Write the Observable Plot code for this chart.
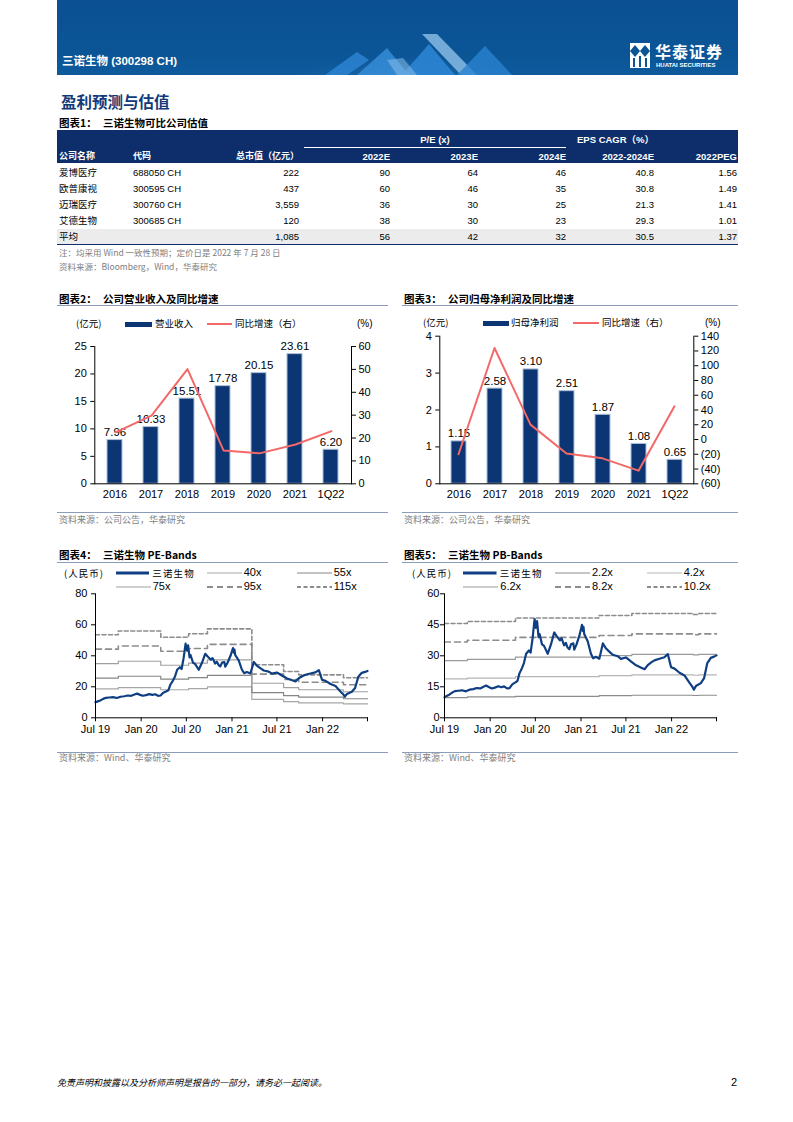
<!DOCTYPE html>
<html><head><meta charset="utf-8">
<script src="https://cdn.jsdelivr.net/npm/d3@7"></script>
<script src="https://cdn.jsdelivr.net/npm/@observablehq/plot@0.6"></script>
<style>
body{margin:0;background:#fff;}
#page{position:relative;width:793px;height:1122px;overflow:hidden;font-family:"Liberation Sans",Arial,"Noto Sans CJK SC",sans-serif;color:#000;}
.abs{position:absolute;white-space:nowrap;}
</style></head>
<body><div id="page"></div>
<script>
// ---------- DATA ----------
const companies = ["爱博医疗","欧普康视","迈瑞医疗","艾德生物","平均"];
const codes = ["688050 CH","300595 CH","300760 CH","300685 CH",""];
const marketCap = ["222","437","3,559","120","1,085"];
const pe2022 = ["90","60","36","38","56"];
const pe2023 = ["64","46","30","30","42"];
const pe2024 = ["46","35","25","23","32"];
const epsCagr = ["40.8","30.8","21.3","29.3","30.5"];
const peg2022 = ["1.56","1.49","1.41","1.01","1.37"];

const years = ["2016","2017","2018","2019","2020","2021","1Q22"];
const revenue = [7.96,10.33,15.51,17.78,20.15,23.61,6.20];
const revenueGrowth = [22.5,29.8,50.1,14.6,13.3,17.2,23];
const netProfit = [1.15,2.58,3.10,2.51,1.87,1.08,0.65];
const profitGrowth = [-20,124,20.2,-19,-25.5,-42.2,45];

const priceDates = ["2019-07-01","2019-07-10","2019-07-20","2019-08-01","2019-08-12","2019-08-25","2019-09-10","2019-09-25","2019-10-10","2019-10-25","2019-11-08","2019-11-22","2019-12-05","2019-12-16","2019-12-28","2020-01-08","2020-01-20","2020-02-03","2020-02-15","2020-02-26","2020-03-09","2020-03-19","2020-03-30","2020-04-10","2020-04-20","2020-04-28","2020-05-08","2020-05-16","2020-05-25","2020-06-05","2020-06-12","2020-06-20","2020-06-28","2020-07-03","2020-07-08","2020-07-14","2020-07-18","2020-07-28","2020-08-05","2020-08-20","2020-09-02","2020-09-15","2020-09-25","2020-10-08","2020-10-15","2020-10-25","2020-11-01","2020-11-08","2020-11-15","2020-11-22","2020-12-01","2020-12-05","2020-12-14","2020-12-26","2021-01-05","2021-01-09","2021-01-11","2021-01-14","2021-01-28","2021-02-10","2021-02-19","2021-03-02","2021-03-16","2021-03-30","2021-04-12","2021-04-25","2021-05-09","2021-05-29","2021-06-11","2021-07-01","2021-07-21","2021-08-11","2021-09-01","2021-09-14","2021-09-27","2021-10-11","2021-10-24","2021-11-13","2021-12-03","2021-12-17","2021-12-30","2022-01-13","2022-02-02","2022-02-22","2022-03-13","2022-03-26","2022-04-01","2022-04-09","2022-04-29","2022-05-12","2022-05-25","2022-06-08","2022-06-21","2022-07-01"];
const priceValues = [10.0,10.6,11.2,12.2,12.9,13.1,13.3,12.8,13.6,13.9,14.4,14.2,15.0,15.6,14.8,14.2,14.6,15.3,14.8,15.2,14.2,14.4,16.2,17.0,17.8,21.5,24.0,26.5,31.0,32.6,31.5,38.5,47.8,43.5,46.8,39.0,40.5,35.5,34.8,31.0,35.5,41.3,39.5,37.5,38.5,35.0,36.2,34.0,33.2,35.6,36.0,33.0,35.5,40.0,45.0,42.0,44.0,40.5,37.0,31.0,28.8,29.5,28.6,36.0,33.5,32.0,30.5,29.8,28.5,29.2,27.3,25.4,24.2,23.5,25.5,26.8,27.8,28.6,29.3,30.8,24.5,23.8,21.8,20.5,17.2,15.0,13.6,15.4,16.8,19.2,26.5,29.0,29.6,30.2];

const peBandDates = ["2019-07-01","2019-10-01","2020-03-20","2020-07-10","2020-09-24","2021-03-22","2021-07-28","2021-09-27","2022-03-26","2022-07-01"];
const pe40x  = [18.6,19.5,18.1,18.8,20.0,11.9,10.4,9.6,9.0,9.0];
const pe55x  = [25.6,26.8,24.9,25.9,27.4,16.3,14.3,13.3,12.3,12.3];
const pe75x  = [35.0,36.5,33.9,35.3,37.4,22.3,19.5,18.1,16.8,16.8];
const pe95x  = [44.3,46.3,42.9,44.7,47.4,28.2,24.7,22.9,21.3,21.3];
const pe115x = [53.6,56.0,52.0,54.2,57.4,34.2,29.9,27.7,25.8,25.8];

const pbBandDates = ["2019-07-01","2019-10-01","2020-04-12","2021-03-15","2021-07-25","2022-03-30","2022-04-20","2022-07-01"];
const pb2_2x  = [9.8,10.1,10.4,10.7,10.9,10.8,10.9,10.9];
const pb4_2x  = [18.8,19.2,19.9,20.4,20.8,20.6,20.8,20.8];
const pb6_2x  = [27.7,28.3,29.4,30.1,30.7,30.4,30.7,30.7];
const pb8_2x  = [36.7,37.5,38.9,39.8,40.6,40.2,40.6,40.6];
const pb10_2x = [45.6,46.6,48.3,49.5,50.5,50.0,50.5,50.5];

const timeTicks = ["2019-07-01","2020-01-01","2020-07-01","2021-01-01","2021-07-01","2022-01-01","2022-07-01"];
const timeTickLabels = ["Jul 19","Jan 20","Jul 20","Jan 21","Jul 21","Jan 22",""];
const peTicks = [0,20,40,60,80];
const pbTicks = [0,15,30,45,60];

// ---------- HELPERS ----------
const page = document.getElementById("page");
const CN = '"Noto Sans CJK SC", sans-serif';
const navy = "#0b3573", lineNavy = "#0f3e82", coral = "#f36868";
function T(txt, x, yc, o = {}) {
  const fs = o.size || 10;
  const d = document.createElement("div");
  d.className = "abs";
  d.textContent = txt;
  d.style.left = x + "px";
  d.style.top = (yc - fs * 0.6) + "px";
  d.style.fontSize = fs + "px";
  d.style.lineHeight = (fs * 1.2) + "px";
  if (o.bold) d.style.fontWeight = "bold";
  d.style.color = o.color || "#000";
  if (o.cn) d.style.fontFamily = CN;
  if (o.italic) d.style.fontStyle = "italic";
  if (o.ls) d.style.letterSpacing = o.ls + "px";
  const tx = o.align === "right" ? "-100%" : o.align === "center" ? "-50%" : "0";
  d.style.transform = `translateX(${tx})`;
  page.appendChild(d);
  return d;
}
function R(x, y, w, h, c) {
  const d = document.createElement("div");
  d.className = "abs";
  Object.assign(d.style, {left: x + "px", top: y + "px", width: w + "px", height: h + "px", background: c});
  page.appendChild(d);
  return d;
}
function swatch(x1, x2, y, stroke, w, dash) {
  const s = document.createElementNS("http://www.w3.org/2000/svg", "svg");
  s.setAttribute("width", x2 - x1); s.setAttribute("height", 8);
  Object.assign(s.style, {position: "absolute", left: x1 + "px", top: (y - 4) + "px"});
  s.innerHTML = `<line x1="0" x2="${x2 - x1}" y1="4" y2="4" stroke="${stroke}" stroke-width="${w}" ${dash ? `stroke-dasharray="${dash}"` : ""}/>`;
  page.appendChild(s);
}
function place(el, x, y) {
  const w = document.createElement("div");
  w.className = "abs";
  w.style.left = x + "px"; w.style.top = y + "px";
  w.appendChild(el);
  page.appendChild(w);
}
const plotStyle = {background: "transparent", fontFamily: '"Liberation Sans", Arial, sans-serif', fontSize: "11px", color: "#000", overflow: "visible"};

// ---------- HEADER ----------
const hdr = R(57, 0, 681, 75, "linear-gradient(180deg,#0a5092 0%,#0b5596 70%,#0d5a9c 100%)");
hdr.innerHTML = `<svg width="681" height="75" style="position:absolute;left:0;top:0">
<defs><radialGradient id="gl" cx="0.5" cy="1" r="0.7"><stop offset="0" stop-color="#4fa3e0" stop-opacity="0.55"/><stop offset="1" stop-color="#4fa3e0" stop-opacity="0"/></radialGradient></defs>
<ellipse cx="345" cy="75" rx="110" ry="45" fill="url(#gl)"/>
<polygon points="268,75 300,52 312,60 290,75" fill="#2e86d6" opacity="0.8"/>
<polygon points="300,75 330,48 352,75" fill="#3b93df" opacity="0.75"/>
<polygon points="345,75 372,44 398,75" fill="#2f8ad9" opacity="0.8"/>
<polygon points="365,34 380,34 420,75 404,75" fill="#9fcff3" opacity="0.7"/>
<polygon points="400,75 428,46 455,75" fill="#2b82d0" opacity="0.8"/>
<polygon points="330,60 346,58 360,75 340,75" fill="#8fc3ee" opacity="0.5"/>
</svg>`;
T("三诺生物 (300298 CH)", 62, 62, {size: 11.5, bold: true, color: "#fff"});
const logo = document.createElement("div");
logo.className = "abs";
logo.style.left = "630px"; logo.style.top = "43px";
logo.innerHTML = `<svg width="22" height="26"><rect x="0" y="0" width="20" height="25" fill="#fff"/>
<polygon points="5,2 10,8 5,14 0,8" fill="#0b5596"/><polygon points="15,2 20,8 15,14 10,8" fill="#0b5596"/>
<rect x="3" y="15" width="2" height="9" fill="#0b5596"/><rect x="9" y="13" width="2" height="11" fill="#0b5596"/><rect x="15" y="15" width="2" height="9" fill="#0b5596"/></svg>`;
page.appendChild(logo);
T("华泰证券", 655, 52, {size: 16, bold: true, color: "#fff", cn: true, ls: 1});
T("HUATAI SECURITIES", 656, 65.5, {size: 6, bold: true, color: "#fff"});

// ---------- SECTION TITLE & TABLE ----------
T("盈利预测与估值", 61, 101, {size: 15.5, bold: true, color: "#123a78", cn: true});
T("图表1：", 59, 123, {size: 10.5, bold: true, cn: true});
T("三诺生物可比公司估值", 103, 123, {size: 10.5, bold: true, cn: true});
R(57, 130, 681, 33, "#0d2e6a");
T("P/E (x)", 435, 140, {size: 9.5, bold: true, color: "#fff", align: "center"});
R(304, 146.5, 262, 1, "#ffffff");
T("EPS CAGR（%）", 577, 140, {size: 9.5, bold: true, color: "#fff"});
T("公司名称", 59, 156.5, {size: 9, bold: true, color: "#fff", cn: true});
T("代码", 133, 156.5, {size: 9, bold: true, color: "#fff", cn: true});
T("总市值（亿元）", 299, 156.5, {size: 9, bold: true, color: "#fff", cn: true, align: "right"});
const hdrYears = ["2022E","2023E","2024E","2022-2024E","2022PEG"];
const numRight = [390, 478, 566, 654, 737];
hdrYears.forEach((h, i) => T(h, numRight[i], 156.5, {size: 9.5, bold: true, color: "#fff", align: "right"}));
R(57, 228.5, 681, 16, "#ececec");
R(57, 243.5, 681, 1.3, "#0d2e6a");
companies.forEach((c, i) => {
  const y = 172.3 + i * 16.1;
  T(c, 59, y, {size: 9.5, cn: true});
  if (codes[i]) T(codes[i], 133, y, {size: 9.5});
  T(marketCap[i], 299, y, {size: 9.5, align: "right"});
  [pe2022, pe2023, pe2024, epsCagr, peg2022].forEach((arr, j) => T(arr[i], numRight[j], y, {size: 9.5, align: "right"}));
});
T("注：均采用 Wind 一致性预期；定价日是 2022 年 7 月 28 日", 59, 252, {size: 8.5, color: "#808080", cn: true});
T("资料来源：Bloomberg，Wind，华泰研究", 59, 266, {size: 8.5, color: "#808080", cn: true});

// ---------- CHART FRAMES ----------
function frameBlock(x1, x2, titleNum, title, yTitle, yTopLine, yBotLine, ySource, source) {
  T(titleNum, x1 + 2, yTitle, {size: 10.5, bold: true, cn: true});
  T(title, x1 + 46, yTitle, {size: 10.5, bold: true, cn: true});
  R(x1, yTopLine, x2 - x1, 1.2, "#8a9cba");
  R(x1, yBotLine, x2 - x1, 1.2, "#8a9cba");
  T(source, x1 + 2, ySource, {size: 9, color: "#808080", cn: true});
}
frameBlock(57, 388, "图表2：", "公司营业收入及同比增速", 299.3, 305, 512.3, 520.7, "资料来源：公司公告，华泰研究");
frameBlock(402, 738, "图表3：", "公司归母净利润及同比增速", 299.3, 305, 512.3, 520.7, "资料来源：公司公告，华泰研究");
frameBlock(57, 388, "图表4：", "三诺生物 PE-Bands", 555.7, 561.7, 751.8, 758.8, "资料来源：Wind、华泰研究");
frameBlock(402, 738, "图表5：", "三诺生物 PB-Bands", 555.7, 561.7, 751.8, 758.8, "资料来源：Wind、华泰研究");

// ---------- BAR + LINE CHARTS ----------
function barLine(cfg) {
  const data = years.map((y, i) => ({cat: y, v: cfg.vals[i], g: cfg.growth[i]}));
  const xOpt = {domain: years, paddingInner: 0.59, paddingOuter: 0.295};
  const common = {width: cfg.width, height: cfg.height, marginTop: cfg.mt, marginBottom: cfg.mb, marginLeft: cfg.ml, marginRight: cfg.mr, style: plotStyle};
  const p1 = Plot.plot({...common,
    x: {...xOpt, label: null}, y: {domain: cfg.yDomain, label: null},
    marks: [
      Plot.barY(data, {x: "cat", y: "v", fill: navy, stroke: "#aebfd9", strokeWidth: 1}),
      Plot.text(data, {x: "cat", y: "v", text: d => d.v.toFixed(2), dy: -4, lineAnchor: "bottom", fontSize: 11.5}),
      Plot.axisY({ticks: cfg.yTicks, tickFormat: v => `${v}`, tickSize: 4, tickPadding: 4, label: null}),
      Plot.axisX({tickSize: 0, tickPadding: 6, label: null}),
      Plot.frame({anchor: "left", stroke: "#000"}),
      Plot.frame({anchor: "bottom", stroke: "#000"})
    ]});
  const p2 = Plot.plot({...common,
    x: {...xOpt, axis: null}, y: {domain: cfg.rDomain, axis: null},
    marks: [
      Plot.lineY(data, {x: "cat", y: "g", stroke: coral, strokeWidth: 2}),
      Plot.axisY({anchor: "right", ticks: cfg.rTicks, tickFormat: v => v < 0 ? `(${-v})` : `${v}`, tickSize: 4, tickPadding: 3, label: null}),
      Plot.frame({anchor: "right", stroke: "#000"})
    ]});
  place(p1, cfg.left, cfg.top);
  place(p2, cfg.left, cfg.top);
}
barLine({left: 55, top: 325, width: 340, height: 185, mt: 21, mb: 26.7, ml: 39.3, mr: 44,
  vals: revenue, growth: revenueGrowth, yDomain: [0, 25], yTicks: [0,5,10,15,20,25], rDomain: [0, 60], rTicks: [0,10,20,30,40,50,60]});
barLine({left: 400, top: 325, width: 340, height: 185, mt: 10.7, mb: 26.7, ml: 39.3, mr: 46.7,
  vals: netProfit, growth: profitGrowth, yDomain: [0, 4], yTicks: [0,1,2,3,4], rDomain: [-60, 140], rTicks: [-60,-40,-20,0,20,40,60,80,100,120,140]});

// legends for bar charts
T("(亿元)", 76, 324, {size: 9.5, cn: true});
R(125, 321.5, 27, 5, navy);
T("营业收入", 155, 324, {size: 9.5, cn: true});
swatch(207, 232, 324, coral, 2);
T("同比增速（右）", 235, 324, {size: 9.5, cn: true});
T("(%)", 357, 324, {size: 10});
T("(亿元)", 423, 323, {size: 9.5, cn: true});
R(483, 320.5, 26, 5, navy);
T("归母净利润", 511, 323, {size: 9.5, cn: true});
swatch(573, 599, 323, coral, 2);
T("同比增速（右）", 602, 323, {size: 9.5, cn: true});
T("(%)", 705, 323, {size: 10});

// ---------- BAND CHARTS ----------
const priceData = priceDates.map((d, i) => ({date: new Date(d), v: priceValues[i]}));
const tickDateObjs = timeTicks.map(d => new Date(d));
const tickLabelMap = new Map(tickDateObjs.map((d, i) => [+d, timeTickLabels[i]]));
function bandPlot(cfg) {
  const marks = cfg.bands.map(b => Plot.line(cfg.dates.map((d, i) => ({date: new Date(d), v: b.values[i]})),
    {x: "date", y: "v", stroke: b.color, strokeWidth: b.width, strokeDasharray: b.dash, curve: "step-after"}));
  marks.push(Plot.line(priceData, {x: "date", y: "v", stroke: lineNavy, strokeWidth: 2.2}));
  marks.push(Plot.axisY({ticks: cfg.yTicks, tickSize: 4, tickPadding: cfg.tp, label: null}));
  marks.push(Plot.axisX({ticks: tickDateObjs, tickFormat: d => tickLabelMap.get(+d) ?? "", tickSize: 4, tickPadding: 3, label: null}));
  marks.push(Plot.frame({anchor: "left", stroke: "#000"}), Plot.frame({anchor: "bottom", stroke: "#000"}));
  const p = Plot.plot({width: cfg.width, height: cfg.height, marginTop: cfg.mt, marginBottom: cfg.mb, marginLeft: cfg.ml, marginRight: cfg.mr,
    style: plotStyle,
    x: {type: "utc", domain: [new Date("2019-07-01"), new Date("2022-07-01")], label: null},
    y: {domain: cfg.yDomain, label: null},
    marks});
  place(p, cfg.left, cfg.top);
}
const peStyles = [
  {name: "40x", values: pe40x, color: "#a6a6a6", width: 1.2},
  {name: "55x", values: pe55x, color: "#858585", width: 1.2},
  {name: "75x", values: pe75x, color: "#a0a0a0", width: 1.2},
  {name: "95x", values: pe95x, color: "#8c8c8c", width: 1.6, dash: "6,4"},
  {name: "115x", values: pe115x, color: "#8c8c8c", width: 1.6, dash: "4,2.5"}
];
const pbStyles = [
  {name: "2.2x", values: pb2_2x, color: "#8c8c8c", width: 1.2},
  {name: "4.2x", values: pb4_2x, color: "#b5b5b5", width: 1.2},
  {name: "6.2x", values: pb6_2x, color: "#9a9a9a", width: 1.2},
  {name: "8.2x", values: pb8_2x, color: "#8c8c8c", width: 1.6, dash: "6,4"},
  {name: "10.2x", values: pb10_2x, color: "#8c8c8c", width: 1.6, dash: "4,2.5"}
];
bandPlot({left: 55, top: 580, width: 330, height: 160, mt: 13.3, mb: 22.7, ml: 40, mr: 18,
  dates: peBandDates, bands: peStyles, yDomain: [0, 80], yTicks: peTicks, tp: 4});
bandPlot({left: 400, top: 580, width: 340, height: 160, mt: 13.3, mb: 22.7, ml: 44, mr: 24,
  dates: pbBandDates, bands: pbStyles, yDomain: [0, 60], yTicks: pbTicks, tp: 1});

function bandLegend(x0, lx, styles) {
  T("(人民币)", x0, 574, {size: 9.5, cn: true, ls: 1});
  const slots = [[lx[0], 573], [lx[1], 573], [lx[2], 573], [lx[0], 586.7], [lx[1], 586.7], [lx[2], 586.7]];
  swatch(slots[0][0], slots[0][0] + 33.5, 573, lineNavy, 3);
  T("三诺生物", slots[0][0] + 36.5, 573.5, {size: 9.5, cn: true, ls: 1.2});
  styles.forEach((s, i) => {
    const [x, y] = slots[i + 1];
    swatch(x, x + 35, y, s.color, s.dash ? 1.8 : 1.2, s.dash);
    T(s.name, x + 37, y, {size: 11});
  });
}
bandLegend(64, [115.7, 206.7, 296.7], peStyles);
bandLegend(412, [463.3, 555, 646.7], pbStyles);

// ---------- FOOTER ----------
T("免责声明和披露以及分析师声明是报告的一部分，请务必一起阅读。", 57, 1083, {size: 9, italic: true, cn: true});
T("2", 737, 1083, {size: 11, align: "right"});
</script>
</body></html>
